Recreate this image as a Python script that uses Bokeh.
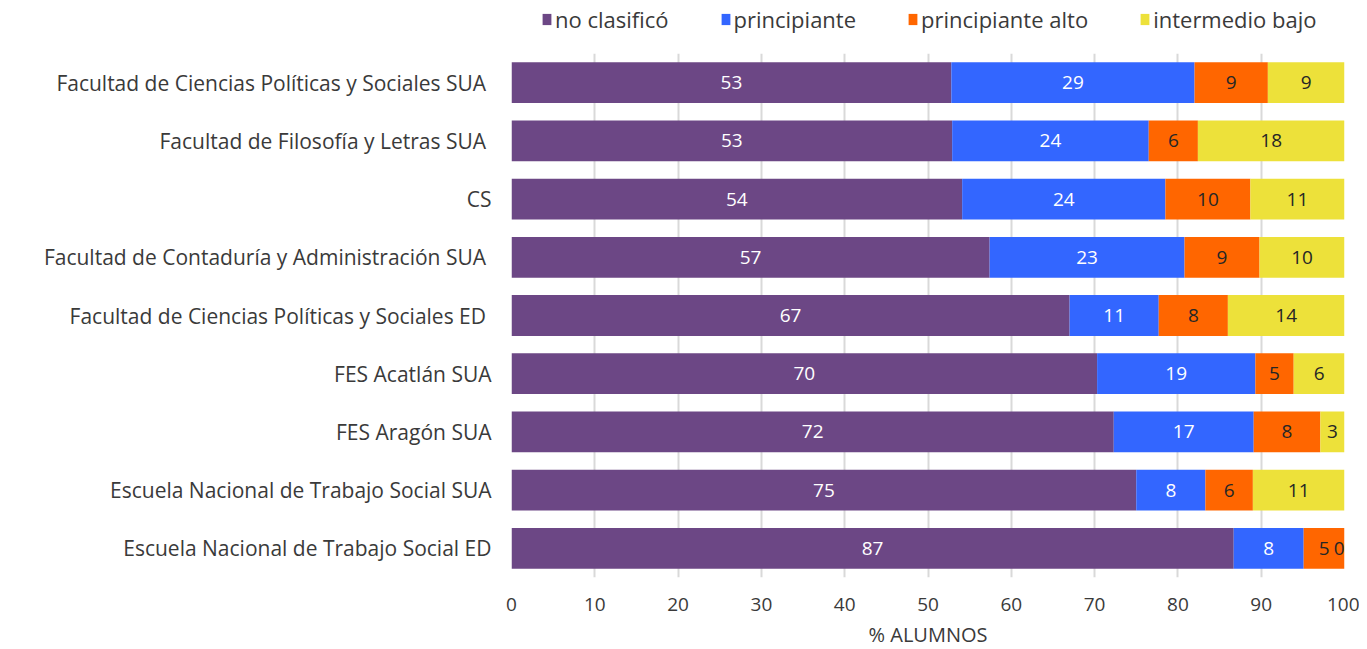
from bokeh.plotting import figure
from bokeh.layouts import column
from bokeh.models import ColumnDataSource, Legend, LegendItem, FactorRange, FixedTicker
from bokeh.embed import file_html
from bokeh.resources import INLINE
from bokeh.core.properties import value

categories = [
    "Facultad  de Ciencias Políticas y Sociales SUA",
    "Facultad  de Filosofía y Letras SUA",
    "CS",
    "Facultad  de Contaduría y Administración SUA",
    "Facultad  de Ciencias Políticas y Sociales ED",
    "FES Acatlán SUA",
    "FES Aragón SUA",
    "Escuela Nacional de Trabajo Social SUA",
    "Escuela Nacional de Trabajo Social ED",
]
no_clasifico = [52.8, 52.9, 54.1, 57.4, 67.0, 70.3, 72.3, 75.0, 86.7]
principiante = [29.2, 23.6, 24.4, 23.4, 10.7, 19.0, 16.8, 8.3, 8.4]
principiante_alto = [8.8, 5.9, 10.2, 9.0, 8.3, 4.6, 8.0, 5.7, 4.9]
intermedio_bajo = [9.2, 17.6, 11.3, 10.2, 14.0, 6.1, 2.9, 11.0, 0.0]

series_names = ["no clasificó", "principiante", "principiante alto", "intermedio bajo"]
series_keys = ["nc", "p", "pa", "ib"]
colors = ["#6C4785", "#3366FF", "#FF6600", "#EDE13A"]
label_colors = ["#FFFFFF", "#FFFFFF", "#262626", "#262626"]
ticks = [0, 10, 20, 30, 40, 50, 60, 70, 80, 90, 100]

FONT = "Open Sans"
TXT = "#3A3A3A"

data = dict(cat=categories, nc=no_clasifico, p=principiante, pa=principiante_alto, ib=intermedio_bajo)
source = ColumnDataSource(data)

p = figure(
    frame_width=833, frame_height=524,
    y_range=FactorRange(*reversed(categories)),
    x_range=(0, 100),
    output_backend="svg", toolbar_location=None,
    min_border_left=511, min_border_right=15, min_border_top=8, min_border_bottom=64,
)
p.outline_line_color = None

rends = p.hbar_stack(series_keys, y="cat", height=0.7, color=colors, line_color=None, source=source)

# value labels
all_vals = [no_clasifico, principiante, principiante_alto, intermedio_bajo]
for i, vals in enumerate(all_vals):
    xs, ys, ts = [], [], []
    zx, zy, zt = [], [], []
    for j, c in enumerate(categories):
        start = sum(all_vals[k][j] for k in range(i))
        t = str(int(round(vals[j])))
        if vals[j] == 0:
            zx.append(start); zy.append(c); zt.append(t)
        else:
            xs.append(start + vals[j] / 2.0); ys.append(c); ts.append(t)
    src = ColumnDataSource(dict(x=xs, y=ys, t=ts))
    p.text(x="x", y="y", text="t", source=src, text_align="center", text_baseline="middle",
           text_font=value(FONT), text_font_size="19px", text_color=label_colors[i])
    if zx:
        zsrc = ColumnDataSource(dict(x=zx, y=zy, t=zt))
        p.text(x="x", y="y", text="t", source=zsrc, text_align="right", text_baseline="middle",
               text_font=value(FONT), text_font_size="19px", text_color=label_colors[i])

p.xaxis.ticker = FixedTicker(ticks=ticks)
p.xaxis.axis_line_color = None
p.xaxis.major_tick_line_color = None
p.xaxis.minor_tick_line_color = None
p.xaxis.major_tick_out = 0
p.xaxis.major_label_text_font = FONT
p.xaxis.major_label_text_font_size = "19px"
p.xaxis.major_label_text_color = TXT
p.xaxis.major_label_standoff = 20
p.xaxis.axis_label = "% ALUMNOS"
p.xaxis.axis_label_text_font = FONT
p.xaxis.axis_label_text_font_size = "20px"
p.xaxis.axis_label_text_font_style = "normal"
p.xaxis.axis_label_text_color = TXT
p.xaxis.axis_label_standoff = 7

p.yaxis.axis_line_color = None
p.yaxis.major_tick_line_color = None
p.yaxis.minor_tick_line_color = None
p.yaxis.major_tick_out = 0
p.yaxis.major_label_text_font = FONT
p.yaxis.major_label_text_font_size = "21px"
p.yaxis.major_label_text_color = TXT
p.yaxis.major_label_standoff = 20

p.ygrid.grid_line_color = None
p.xgrid.grid_line_color = "#D9D9D9"
p.xgrid.grid_line_width = 2

# legend strip above the plot (its frame is aligned with the main plot's frame)
lg = figure(width=1359, height=45, x_axis_type=None, y_axis_type=None,
            x_range=(0, 1), y_range=(0, 1),
            output_backend="svg", toolbar_location=None, min_border=0)
lg.outline_line_color = None
lg.grid.visible = False
lrends = [lg.hbar(y=[-10], left=[0], right=[1], height=0.5, color=c, line_color=None) for c in colors]
legend = Legend(items=[LegendItem(label=n, renderers=[r]) for n, r in zip(series_names, lrends)],
                orientation="horizontal", location=(30, 11))
legend.label_text_font = FONT
legend.label_text_font_size = "22px"
legend.label_text_color = TXT
legend.glyph_width = 11
legend.glyph_height = 14
legend.label_standoff = 3
legend.spacing = 51
legend.border_line_color = None
legend.background_fill_alpha = 0
legend.padding = 2
legend.margin = 0
lg.add_layout(legend, "center")

layout = column(lg, p, spacing=0)
open("out.html", "w").write(file_html(layout, INLINE))
